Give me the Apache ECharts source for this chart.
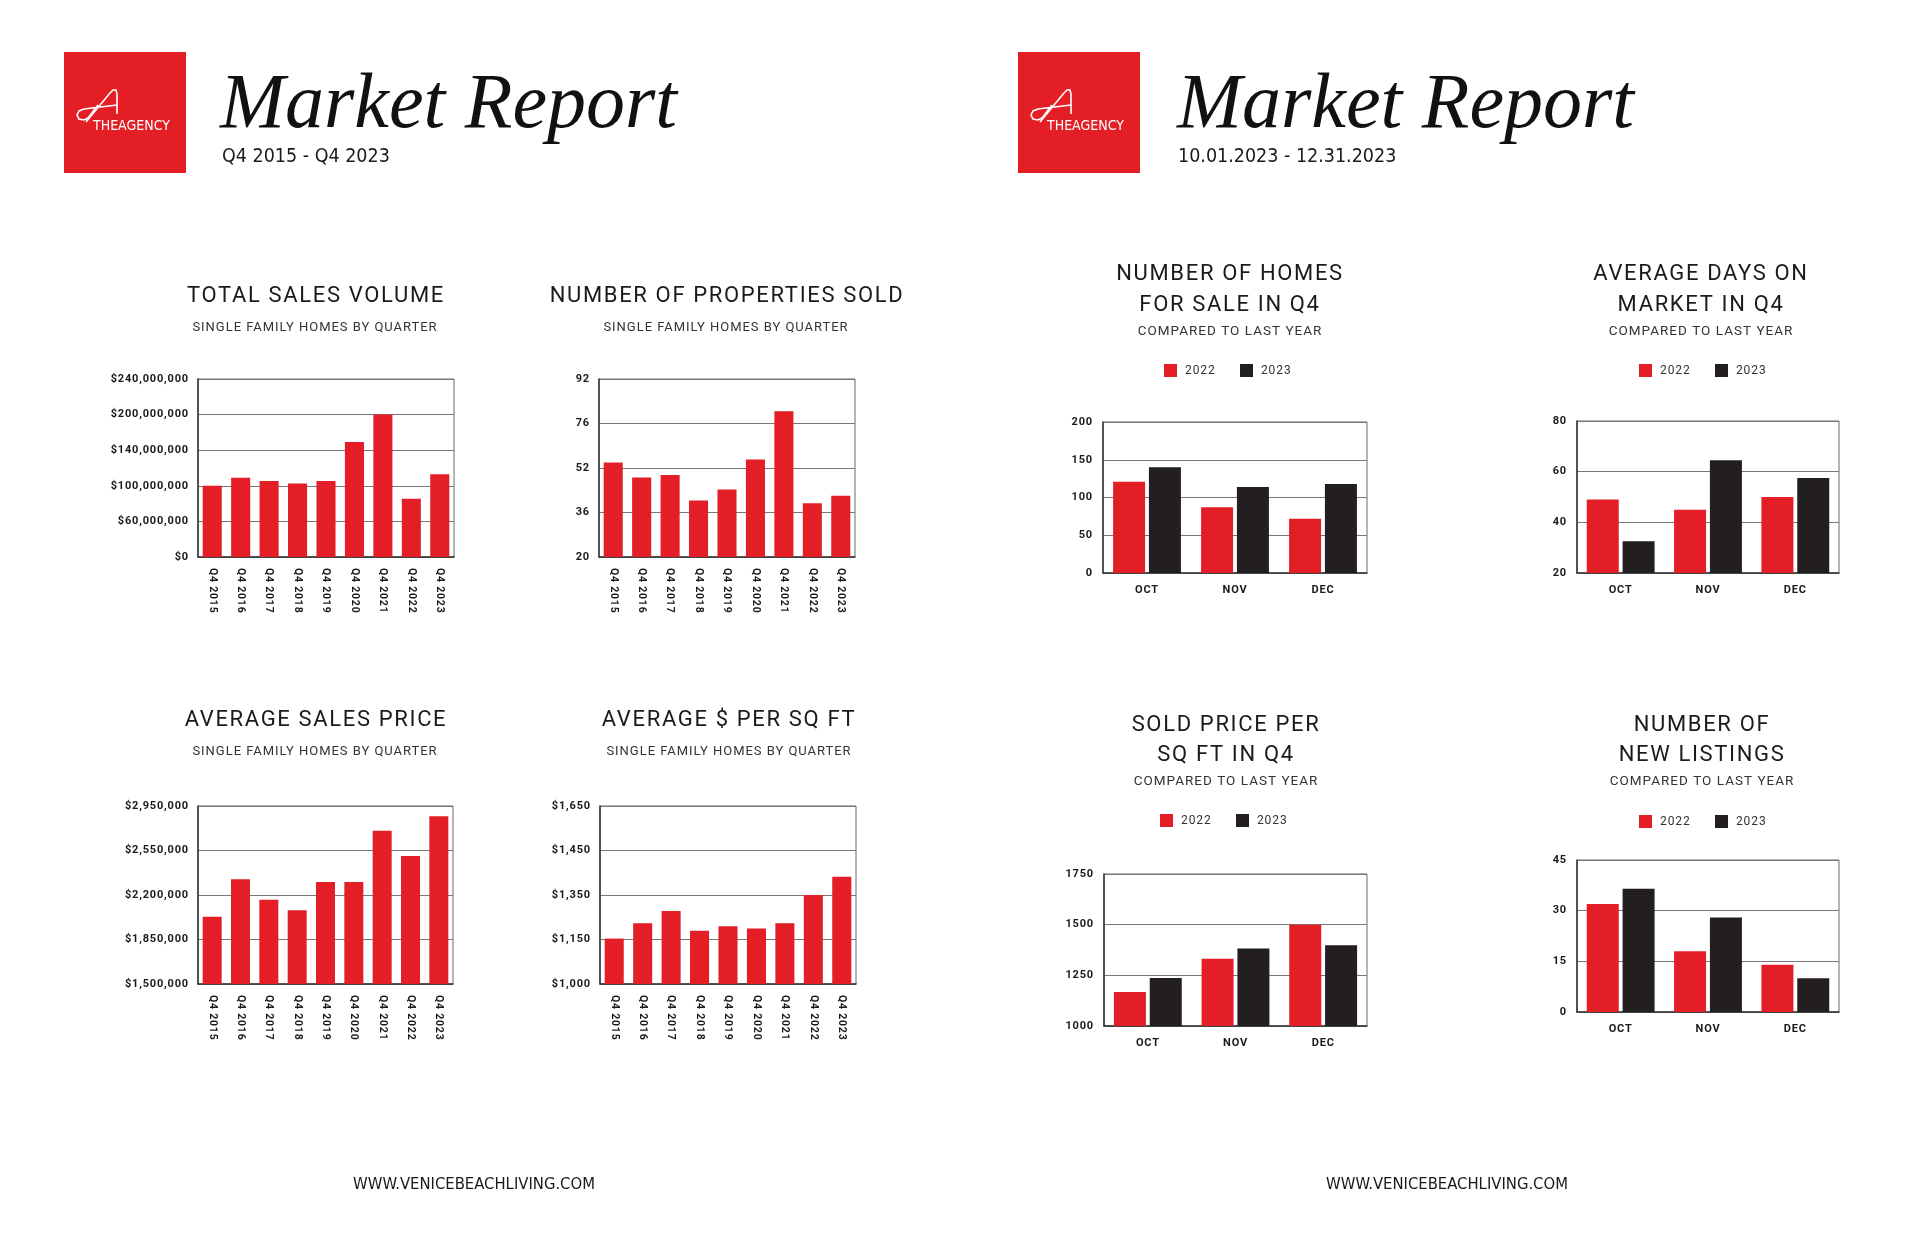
<!DOCTYPE html>
<html>
<head>
<meta charset="utf-8">
<script src="https://cdn.jsdelivr.net/npm/echarts@6/dist/echarts.min.js"></script>
<style>
html,body{margin:0;padding:0;background:#fff;}
#chart{width:1920px;height:1242px;}
</style>
</head>
<body>
<div id="chart"></div>
<script>
// ---------- DATA ----------
const quarters = ['Q4 2015','Q4 2016','Q4 2017','Q4 2018','Q4 2019','Q4 2020','Q4 2021','Q4 2022','Q4 2023'];

const salesVolume = [100000000, 109000000, 105500000, 102500000, 105500000, 154000000, 200000000, 85500000, 113000000];
const salesVolumeTicks = [0, 60000000, 100000000, 140000000, 200000000, 240000000];
const salesVolumeTickLabels = ['$0','$60,000,000','$100,000,000','$140,000,000','$200,000,000','$240,000,000'];

const propertiesSold = [55, 48.6, 49.5, 40.3, 44.3, 56.6, 80.4, 39.3, 42];
const propertiesSoldTicks = [20, 36, 52, 76, 92];
const propertiesSoldTickLabels = ['20','36','52','76','92'];

const avgSalesPrice = [2028000, 2323000, 2163000, 2080000, 2303000, 2303000, 2728000, 2506000, 2858000];
const avgSalesPriceTicks = [1500000, 1850000, 2200000, 2550000, 2950000];
const avgSalesPriceTickLabels = ['$1,500,000','$1,850,000','$2,200,000','$2,550,000','$2,950,000'];

const avgPricePerSqft = [1154, 1223, 1278, 1189, 1210, 1199, 1223, 1350, 1391];
const avgPricePerSqftTicks = [1000, 1150, 1350, 1450, 1650];
const avgPricePerSqftTickLabels = ['$1,000','$1,150','$1,350','$1,450','$1,650'];

const months = ['OCT','NOV','DEC'];
const years = ['2022','2023'];

const homesForSale2022 = [121, 87, 72];
const homesForSale2023 = [140, 114, 118];

const daysOnMarket2022 = [49, 45, 50];
const daysOnMarket2023 = [32.5, 64.5, 57.5];

const soldPricePerSqft2022 = [1168, 1332, 1500];
const soldPricePerSqft2023 = [1237, 1383, 1398];

const newListings2022 = [32, 18, 14];
const newListings2023 = [36.5, 28, 10];

// ---------- STYLE ----------
const RED = '#e41e26';
const DARK = '#231f20';
const SANS = 'Roboto, "Noto Sans", sans-serif';
const NARROW = '"Liberation Sans Narrow", "DejaVu Sans Condensed", Roboto, sans-serif';

// the original typography is letter-spaced (tracked); emulate with canvas letterSpacing
(function () {
  const proto = CanvasRenderingContext2D.prototype;
  const orig = proto.fillText;
  proto.fillText = function (text, x, y, maxW) {
    const f = this.font || '';
    const m = /(\d+(?:\.\d+)?)px/.exec(f);
    let ls = 0;
    if (m && !/Liberation Serif|Narrow/.test(f)) ls = parseFloat(m[1]) * 0.075;
    if ('letterSpacing' in this) this.letterSpacing = ls.toFixed(2) + 'px';
    return maxW === undefined ? orig.call(this, text, x, y) : orig.call(this, text, x, y, maxW);
  };
})();

// map a value onto the evenly spaced (non-linear) tick positions of the original charts
function toTickPos(v, ticks) {
  for (let i = 0; i < ticks.length - 1; i++) {
    if (v <= ticks[i + 1] || i === ticks.length - 2) {
      return i + (v - ticks[i]) / (ticks[i + 1] - ticks[i]);
    }
  }
  return 0;
}

const leftCharts = [
  { grid: {left:198, top:379, width:256, height:178}, values: salesVolume, ticks: salesVolumeTicks, labels: salesVolumeTickLabels },
  { grid: {left:599, top:379, width:256, height:178}, values: propertiesSold, ticks: propertiesSoldTicks, labels: propertiesSoldTickLabels },
  { grid: {left:198, top:806, width:255, height:178}, values: avgSalesPrice, ticks: avgSalesPriceTicks, labels: avgSalesPriceTickLabels },
  { grid: {left:600, top:806, width:256, height:178}, values: avgPricePerSqft, ticks: avgPricePerSqftTicks, labels: avgPricePerSqftTickLabels }
];

const rightCharts = [
  { grid: {left:1103, top:422, width:264, height:151}, a: homesForSale2022, b: homesForSale2023, min:0, max:200, interval:50 },
  { grid: {left:1577, top:421, width:262, height:152}, a: daysOnMarket2022, b: daysOnMarket2023, min:20, max:80, interval:20 },
  { grid: {left:1104, top:874, width:263, height:152}, a: soldPricePerSqft2022, b: soldPricePerSqft2023, min:1000, max:1750, interval:250 },
  { grid: {left:1577, top:860, width:262, height:152}, a: newListings2022, b: newListings2023, min:0, max:45, interval:15 }
];

const grids = [], xAxes = [], yAxes = [], series = [];

const yLabelStyle = { color:'#1a1a1a', fontFamily: SANS, fontWeight:'bold', fontSize:11 };

leftCharts.forEach((c, i) => {
  grids.push(Object.assign({ show:true, borderColor:'#6a6a6a', borderWidth:1, containLabel:false }, c.grid));
  xAxes.push({
    type:'category', gridIndex:i, data: quarters,
    axisLine:{show:true, lineStyle:{color:'#333', width:1.5}},
    axisTick:{show:false},
    axisLabel:{ rotate:-90, margin:11, color:'#1a1a1a', fontFamily:SANS, fontWeight:'bold', fontSize:10.5, interval:0 }
  });
  yAxes.push({
    type:'value', gridIndex:i, min:0, max:c.ticks.length - 1, interval:1,
    axisLine:{show:true, lineStyle:{color:'#333', width:1.5}},
    axisTick:{show:false},
    splitLine:{show:true, lineStyle:{color:'#777', width:1}},
    axisLabel:Object.assign({ margin:9, formatter:(v) => c.labels[Math.round(v)] }, yLabelStyle)
  });
  series.push({
    type:'bar', xAxisIndex:i, yAxisIndex:i, barWidth:'67%',
    itemStyle:{color:RED},
    data: c.values.map(v => toTickPos(v, c.ticks))
  });
});

rightCharts.forEach((c, j) => {
  const i = j + 4;
  grids.push(Object.assign({ show:true, borderColor:'#6a6a6a', borderWidth:1, containLabel:false }, c.grid));
  xAxes.push({
    type:'category', gridIndex:i, data: months,
    axisLine:{show:true, lineStyle:{color:'#333', width:1.5}},
    axisTick:{show:false},
    axisLabel:{ margin:12, color:'#1a1a1a', fontFamily:SANS, fontWeight:'bold', fontSize:11 }
  });
  yAxes.push({
    type:'value', gridIndex:i, min:c.min, max:c.max, interval:c.interval,
    axisLine:{show:true, lineStyle:{color:'#333', width:1.5}},
    axisTick:{show:false},
    splitLine:{show:true, lineStyle:{color:'#777', width:1}},
    axisLabel:Object.assign({ margin:10, formatter:(v) => String(v) }, yLabelStyle)
  });
  series.push({
    name: years[0], type:'bar', xAxisIndex:i, yAxisIndex:i, barWidth:32, barGap:'12%',
    itemStyle:{color:RED}, data:c.a
  });
  series.push({
    name: years[1], type:'bar', xAxisIndex:i, yAxisIndex:i, barWidth:32, barGap:'12%',
    itemStyle:{color:DARK}, data:c.b
  });
});

// ---------- LEGENDS ----------
const legendPos = [ {left:1164, top:364}, {left:1639, top:364}, {left:1160, top:814}, {left:1639, top:815} ];
const legends = legendPos.map(p => ({
  left:p.left, top:p.top, padding:0, itemGap:28, itemWidth:13, itemHeight:13, icon:'rect',
  selectedMode:false, data: years,
  textStyle:{ color:'#333', fontFamily:SANS, fontSize:12, padding:[0,0,0,3] }
}));

// ---------- TEXT / DECORATION ----------
const g = [];
function txt(x, y, text, size, opts) {
  g.push({ type:'text', x:x, y:y, silent:true, style:Object.assign({
    text:text, fill:'#1a1a1a', font: size + 'px ' + SANS, textAlign:'center', textVerticalAlign:'middle'
  }, opts || {}) });
}

function logo(x0, y0) {
  g.push({ type:'rect', shape:{x:x0, y:y0, width:122, height:121}, style:{fill:'#e31e24'}, silent:true });
  const P = (pts) => pts.map(p => [x0 + p[0], y0 + p[1]]);
  // stylised "A" mark
  g.push({ type:'polyline', silent:true, shape:{ points: P([[22,70],[46,41],[49,38],[52,38],[53,42],[53,62]]) },
    style:{ stroke:'#fff', lineWidth:1.6, fill:null } });
  g.push({ type:'polyline', silent:true, shape:{ points: P([[53,53],[20,57],[15,59],[13,63],[15,67],[20,68],[24,66],[34,53]]) },
    style:{ stroke:'#fff', lineWidth:1.6, fill:null } });
  g.push({ type:'text', x:x0+29, y:y0+74, silent:true, style:{
    text:'THEAGENCY', fill:'#fff', font:'14px ' + NARROW, textAlign:'left', textVerticalAlign:'middle' } });
}

logo(64, 52);
logo(1018, 52);

const titleFont = 'italic 78px "Liberation Serif", "DejaVu Serif", serif';
g.push({ type:'text', x:220, y:106, silent:true, style:{ text:'Market Report', fill:'#111', font:titleFont, textAlign:'left', textVerticalAlign:'middle' } });
g.push({ type:'text', x:1177, y:106, silent:true, style:{ text:'Market Report', fill:'#111', font:titleFont, textAlign:'left', textVerticalAlign:'middle' } });
g.push({ type:'text', x:222, y:157, silent:true, style:{ text:'Q4 2015 - Q4 2023', fill:'#1a1a1a', font:'19.5px ' + NARROW, textAlign:'left', textVerticalAlign:'middle' } });
g.push({ type:'text', x:1178, y:157, silent:true, style:{ text:'10.01.2023 - 12.31.2023', fill:'#1a1a1a', font:'19.5px ' + NARROW, textAlign:'left', textVerticalAlign:'middle' } });

// left chart titles
txt(316, 296, 'TOTAL SALES VOLUME', 22);
txt(315, 328, 'SINGLE FAMILY HOMES BY QUARTER', 13, {fill:'#333'});
txt(727, 296, 'NUMBER OF PROPERTIES SOLD', 22);
txt(726, 328, 'SINGLE FAMILY HOMES BY QUARTER', 13, {fill:'#333'});
txt(316, 720, 'AVERAGE SALES PRICE', 22);
txt(315, 752, 'SINGLE FAMILY HOMES BY QUARTER', 13, {fill:'#333'});
txt(729, 720, 'AVERAGE $ PER SQ FT', 22);
txt(729, 752, 'SINGLE FAMILY HOMES BY QUARTER', 13, {fill:'#333'});

// right chart titles
txt(1230, 274, 'NUMBER OF HOMES', 22);
txt(1230, 305, 'FOR SALE IN Q4', 22);
txt(1230, 332, 'COMPARED TO LAST YEAR', 13.5, {fill:'#333'});
txt(1701, 274, 'AVERAGE DAYS ON', 22);
txt(1701, 305, 'MARKET IN Q4', 22);
txt(1701, 332, 'COMPARED TO LAST YEAR', 13.5, {fill:'#333'});
txt(1226, 725, 'SOLD PRICE PER', 22);
txt(1226, 755, 'SQ FT IN Q4', 22);
txt(1226, 782, 'COMPARED TO LAST YEAR', 13.5, {fill:'#333'});
txt(1702, 725, 'NUMBER OF', 22);
txt(1702, 755, 'NEW LISTINGS', 22);
txt(1702, 782, 'COMPARED TO LAST YEAR', 13.5, {fill:'#333'});

// footers
g.push({ type:'text', x:474, y:1185, silent:true, style:{ text:'WWW.VENICEBEACHLIVING.COM', fill:'#1a1a1a', font:'16.5px ' + NARROW, textAlign:'center', textVerticalAlign:'middle' } });
g.push({ type:'text', x:1447, y:1185, silent:true, style:{ text:'WWW.VENICEBEACHLIVING.COM', fill:'#1a1a1a', font:'16.5px ' + NARROW, textAlign:'center', textVerticalAlign:'middle' } });

const chart = echarts.init(document.getElementById('chart'), null, {renderer:'canvas'});
chart.setOption({
  animation:false,
  backgroundColor:'#ffffff',
  grid: grids,
  xAxis: xAxes,
  yAxis: yAxes,
  legend: legends,
  series: series,
  graphic: g
});
</script>
</body>
</html>
